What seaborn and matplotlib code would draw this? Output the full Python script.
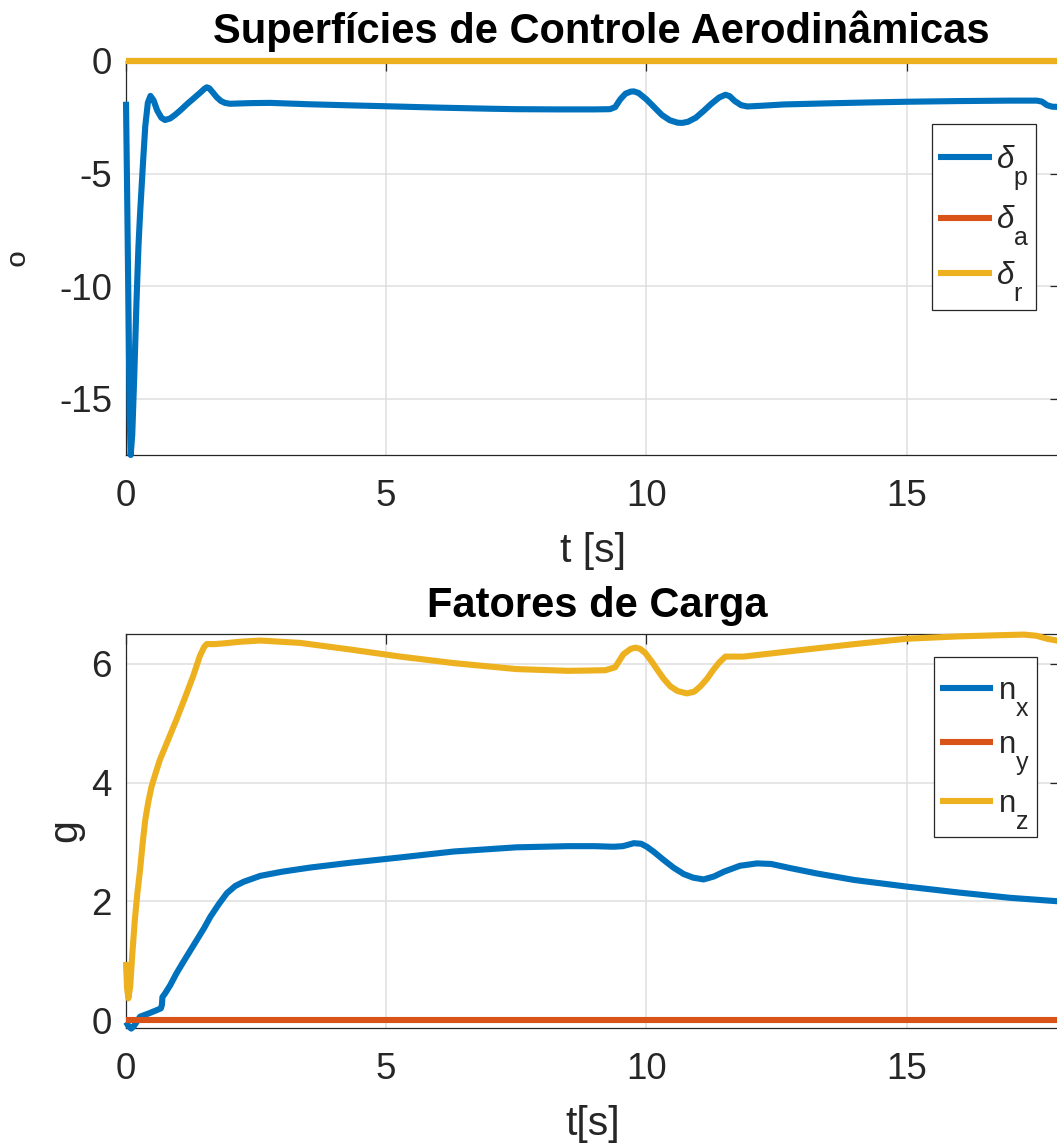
import matplotlib
matplotlib.use("Agg")
import matplotlib.pyplot as plt
import matplotlib._mathtext as _mathtext
import seaborn as sns

# ---- simulation readings -------------------------------------------------
T_END = 17.95

# elevator deflection [deg]
t_dp = [0.0, 0.02, 0.05, 0.07, 0.09, 0.12, 0.16, 0.20, 0.24, 0.27, 0.30, 0.33,
        0.37, 0.42, 0.47, 0.53, 0.60, 0.68, 0.75, 0.85, 0.95, 1.05, 1.17, 1.30,
        1.42, 1.50, 1.55, 1.60, 1.67, 1.74, 1.82, 1.90, 2.00, 2.13, 2.40, 2.77,
        3.50, 4.30, 5.00, 6.00, 7.00, 7.50, 8.30, 9.00, 9.30, 9.40, 9.50, 9.60,
        9.70, 9.76, 9.85, 10.00, 10.15, 10.30, 10.45, 10.60, 10.69, 10.80,
        10.95, 11.10, 11.25, 11.40, 11.52, 11.60, 11.70, 11.82, 11.94, 12.20,
        12.64, 13.50, 14.30, 15.00, 16.00, 17.00, 17.50, 17.60, 17.70, 17.80,
        T_END]
delta_p = [-1.81, -5.5, -11.5, -15.8, -17.5, -16.6, -13.9, -10.8, -8.2, -6.8,
           -5.6, -4.4, -2.9, -1.85, -1.55, -1.75, -2.20, -2.52, -2.62, -2.55,
           -2.38, -2.18, -1.92, -1.66, -1.42, -1.25, -1.17, -1.21, -1.40,
           -1.60, -1.77, -1.86, -1.90, -1.89, -1.87, -1.86, -1.92, -1.97,
           -2.01, -2.07, -2.12, -2.14, -2.15, -2.15, -2.14, -2.05, -1.70,
           -1.45, -1.36, -1.35, -1.42, -1.70, -2.05, -2.40, -2.63, -2.74,
           -2.75, -2.70, -2.52, -2.22, -1.90, -1.62, -1.50, -1.56, -1.78,
           -1.96, -2.02, -1.99, -1.93, -1.88, -1.84, -1.81, -1.78, -1.76,
           -1.76, -1.80, -1.96, -2.03, -2.04]

# aileron and rudder deflections [deg]
t_flat = [0.0, T_END]
delta_a = [0.0, 0.0]
delta_r = [0.0, 0.0]

# load factors [g]
t_nx = [0.0, 0.05, 0.10, 0.15, 0.27, 0.45, 0.59, 0.67, 0.69, 0.70, 0.75,
        0.85, 0.97, 1.10, 1.36, 1.50, 1.62, 1.78, 1.94, 2.10, 2.26, 2.58,
        3.00, 3.54, 4.30, 5.27, 6.30, 7.50, 8.50, 9.00, 9.37, 9.55, 9.76,
        9.90, 10.01, 10.15, 10.33, 10.52, 10.72, 10.90, 11.10, 11.30, 11.49,
        11.80, 12.13, 12.40, 12.77, 13.28, 14.00, 15.00, 16.00, 17.00,
        T_END]
n_x = [-0.03, -0.10, -0.14, -0.10, 0.06, 0.12, 0.17, 0.20, 0.26, 0.39, 0.45,
       0.59, 0.79, 0.98, 1.35, 1.55, 1.74, 1.95, 2.14, 2.26, 2.33, 2.43,
       2.50, 2.57, 2.65, 2.74, 2.84, 2.91, 2.93, 2.93, 2.92, 2.93, 2.98,
       2.97, 2.92, 2.83, 2.70, 2.57, 2.46, 2.40, 2.37, 2.42, 2.50, 2.60,
       2.64, 2.63, 2.56, 2.47, 2.36, 2.25, 2.15, 2.06, 2.00]
n_y = [0.0, 0.0]
t_nz = [0.0, 0.02, 0.045, 0.08, 0.12, 0.17, 0.22, 0.27, 0.32, 0.37, 0.43,
        0.49, 0.57, 0.65, 0.81, 0.97, 1.13, 1.29, 1.42, 1.50, 1.55, 1.70,
        1.85, 2.20, 2.58, 3.35, 4.30, 5.27, 6.30, 7.50, 8.50, 9.21, 9.40,
        9.48, 9.56, 9.70, 9.79, 9.88, 9.98, 10.10, 10.21, 10.33, 10.46,
        10.60, 10.78, 10.92, 11.04, 11.17, 11.29, 11.40, 11.52, 11.87,
        12.77, 14.00, 15.00, 16.00, 16.80, 17.26, 17.50, 17.70, T_END]
n_z = [0.98, 0.55, 0.37, 0.56, 1.10, 1.69, 2.15, 2.53, 2.98, 3.37, 3.68,
       3.93, 4.16, 4.38, 4.72, 5.06, 5.42, 5.79, 6.13, 6.28, 6.33, 6.33,
       6.34, 6.37, 6.39, 6.35, 6.24, 6.12, 6.01, 5.91, 5.88, 5.89, 5.94,
       6.05, 6.16, 6.25, 6.27, 6.25, 6.18, 6.04, 5.90, 5.75, 5.62, 5.54,
       5.50, 5.53, 5.62, 5.75, 5.90, 6.02, 6.12, 6.12, 6.21, 6.33, 6.42,
       6.46, 6.48, 6.49, 6.47, 6.42, 6.38]

# ---- styling -------------------------------------------------------------
BLUE, ORANGE, YELLOW = "#0072BD", "#D95319", "#EDB120"
INK = "#262626"
GRID = "#DFDFDF"

sns.set_theme(style="whitegrid")
plt.rcParams["font.family"] = ["Liberation Sans", "DejaVu Sans"]
plt.rcParams["mathtext.fontset"] = "custom"
plt.rcParams["mathtext.rm"] = "Liberation Sans"
plt.rcParams["mathtext.it"] = "Liberation Sans:italic"
plt.rcParams["mathtext.bf"] = "Liberation Sans:bold"
# TeX-style subscripts: larger and dropped lower than the mathtext default
_mathtext.SHRINK_FACTOR = 0.8
_mathtext.FontConstantsBase.sub1 = 1.0
_mathtext.FontConstantsBase.sub2 = 1.0

W, H = 1057, 1145
fig = plt.figure(figsize=(W / 100, H / 100), dpi=100)
fig.patch.set_facecolor("white")

px_left, px_right = 126, 1060
ax_w = (px_right - px_left) / W
ax_h = 394 / H
ax_top = fig.add_axes([px_left / W, 1 - 455 / H, ax_w, ax_h])
ax_bot = fig.add_axes([px_left / W, 1 - 1028 / H, ax_w, ax_h])

LW = 4.4


def style_axes(ax):
    ax.set_facecolor("white")
    ax.grid(True, color=GRID, linewidth=1.1)
    ax.set_axisbelow(True)
    for s in ax.spines.values():
        s.set_visible(True)
        s.set_color(INK)
        s.set_linewidth(0.9)
    ax.tick_params(axis="both", which="both", direction="in", top=True,
                   right=True, length=7, width=0.9, color=INK,
                   labelsize=26.5, labelcolor=INK)
    ax.tick_params(axis="x", pad=17.5)
    ax.tick_params(axis="y", pad=10)
    ax.set_xlim(0, T_END)
    ax.set_xticks([0, 5, 10, 15])


# ---- control surfaces ----------------------------------------------------
sns.lineplot(x=t_dp, y=delta_p, ax=ax_top, color=BLUE, linewidth=LW,
             estimator=None, sort=False, label=r"$\delta_{\mathrm{p}}$")
sns.lineplot(x=t_flat, y=delta_a, ax=ax_top, color=ORANGE, linewidth=LW,
             estimator=None, sort=False, label=r"$\delta_{\mathrm{a}}$")
sns.lineplot(x=t_flat, y=delta_r, ax=ax_top, color=YELLOW, linewidth=LW,
             estimator=None, sort=False, label=r"$\delta_{\mathrm{r}}$")
style_axes(ax_top)
ax_top.set_ylim(-17.5, 0)
ax_top.set_yticks([0, -5, -10, -15])
ax_top.set_yticklabels(["0", "-5", "-10", "-15"])
ax_top.set_title("Superfícies de Controle Aerodinâmicas", fontsize=30,
                 fontweight="bold", color="black", pad=13)
ax_top.title.set_x(0.5085)
ax_top.set_xlabel("t [s]", fontsize=29.5, color=INK, labelpad=13)
ax_top.set_ylabel("º", fontsize=29.5, color=INK, labelpad=9)

# ---- load factors --------------------------------------------------------
sns.lineplot(x=t_nx, y=n_x, ax=ax_bot, color=BLUE, linewidth=LW,
             estimator=None, sort=False, label=r"$\mathrm{n}_{\mathrm{x}}$")
sns.lineplot(x=t_flat, y=n_y, ax=ax_bot, color=ORANGE, linewidth=LW,
             estimator=None, sort=False, label=r"$\mathrm{n}_{\mathrm{y}}$")
sns.lineplot(x=t_nz, y=n_z, ax=ax_bot, color=YELLOW, linewidth=LW,
             estimator=None, sort=False, label=r"$\mathrm{n}_{\mathrm{z}}$")
style_axes(ax_bot)
ax_bot.set_ylim(-0.13, 6.5)
ax_bot.set_yticks([0, 2, 4, 6])
ax_bot.set_title("Fatores de Carga", fontsize=30, fontweight="bold",
                 color="black", pad=12)
ax_bot.title.set_x(0.505)
ax_bot.set_xlabel("t[s]", fontsize=29.5, color=INK, labelpad=13)
ax_bot.set_ylabel("g", fontsize=29.5, color=INK, labelpad=5.5)

for ax in (ax_top, ax_bot):
    for line in ax.get_lines():
        line.set_clip_on(False)
        line.set_zorder(3)
        line.set_solid_capstyle("butt")

# ---- legends -------------------------------------------------------------
# a blank, tiny title row gives the extra headroom above the first entry
legend_kw = dict(loc="upper right", borderaxespad=0, fontsize=22.5,
                 frameon=True, fancybox=False, framealpha=1,
                 edgecolor=INK, handlelength=1.7, handletextpad=0.15,
                 labelspacing=0.38, borderpad=0.2, title=" ",
                 title_fontsize=1)
leg1 = ax_top.legend(bbox_to_anchor=(0.974, 0.840), **legend_kw)
leg2 = ax_bot.legend(bbox_to_anchor=(0.975, 0.942), **legend_kw)
for leg in (leg1, leg2):
    leg.set_zorder(5)
    leg.get_frame().set_linewidth(0.9)
    for h in leg.get_lines():
        h.set_linewidth(LW)

fig.savefig("out.png", dpi=100, facecolor="white")
